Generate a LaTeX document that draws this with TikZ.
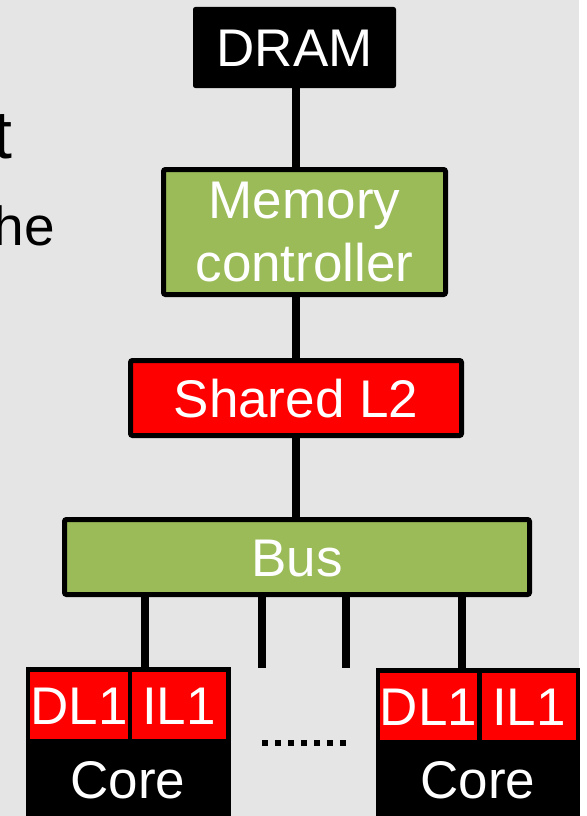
\documentclass[tikz,border=0pt]{standalone}
\usepackage{fontspec}
\setmainfont{Liberation Sans}
\definecolor{slidegray}{HTML}{E5E5E5}
\definecolor{boxgreen}{HTML}{9BBB59}
\definecolor{boxred}{HTML}{FF0000}
\begin{document}
\begin{tikzpicture}[x=1pt,y=-1pt,
  lbl/.style={font=\fontsize{53}{63}\selectfont, text=white},
  unit/.style={lbl, rectangle, inner sep=0pt, outer sep=0pt, text height=38pt, text depth=0pt},
  framed/.style={unit, draw=black, line width=5pt, rounded corners=2pt},
  blackbox/.style={unit, fill=black, draw=black, line width=1pt, rounded corners=2pt},
  cache/.style={unit, fill=boxred, minimum width=94pt, minimum height=67pt},
  corebox/.style={rectangle, fill=black, inner sep=0pt, outer sep=0pt, minimum width=205pt, minimum height=163pt},
  wire/.style={line width=7.5pt, black},
  slidetext/.style={inner sep=0pt, text=black}
]
% canvas: slide background with a thin white strip on the right
\useasboundingbox[fill=white] (0,0) rectangle (586,816);
\fill[slidegray] (0,0) rectangle (579,816);

% fragments of the slide text at the left edge
\node[slidetext, anchor=base east, font=\fontsize{68}{80}\selectfont] (titlefrag) at (12.5,158) {t};
\node[slidetext, anchor=base east, font=\fontsize{55}{66}\selectfont] (bodyfrag) at (55,245) {he};

% memory hierarchy
\node[blackbox, minimum width=202pt, minimum height=80pt] (dram) at (294.5,47.5) {DRAM};
\node[framed, fill=boxgreen, minimum width=282pt, minimum height=125pt, align=center,
      text height=, text depth=] (mc) at (304.5,232) {Memory\\controller};
\node[framed, fill=boxred, minimum width=331pt, minimum height=75pt] (l2) at (296,398) {Shared L2};
\node[framed, fill=boxgreen, minimum width=465pt, minimum height=75pt] (bus) at (297,557) {Bus};

% cores with private L1 caches
\node[corebox] (coreL) at (128.5,748.5) {};
\node[cache] (dl1L) at (79,705.5) {DL1};
\node[cache] (il1L) at (179,705.5) {IL1};
\node[lbl, anchor=base, inner sep=0pt] (coreLtxt) at (128,798) {Core};

\node[corebox, minimum width=204pt] (coreR) at (478,749.5) {};
\node[cache, minimum width=95pt] (dl1R) at (428.5,706.5) {DL1};
\node[cache] (il1R) at (529,706.5) {IL1};
\node[lbl, anchor=base, inner sep=0pt] (coreRtxt) at (478,798) {Core};

% trunk between the levels
\coordinate (trunk) at (296,0);
\draw[wire] (dram.south -| trunk) -- (mc.north -| trunk);
\draw[wire] (mc.south -| trunk) -- (l2.north -| trunk);
\draw[wire] (l2.south -| trunk) -- (bus.north -| trunk);

% bus taps
\coordinate (tapL) at (145,0);
\coordinate (tapA) at (262,668);
\coordinate (tapB) at (346,668);
\coordinate (tapR) at (462,0);
\draw[wire] (bus.south -| tapL) -- (coreL.north -| tapL);
\draw[wire] (bus.south -| tapA) -- (tapA);
\draw[wire] (bus.south -| tapB) -- (tapB);
\draw[wire] (bus.south -| tapR) -- (coreR.north -| tapR);

% ellipsis between the cores
\coordinate (dotsA) at (262,742.5);
\coordinate (dotsB) at (346,742.5);
\draw[line width=6pt, dash pattern=on 6pt off 7pt] (dotsA) -- (dotsB);
\end{tikzpicture}
\end{document}
